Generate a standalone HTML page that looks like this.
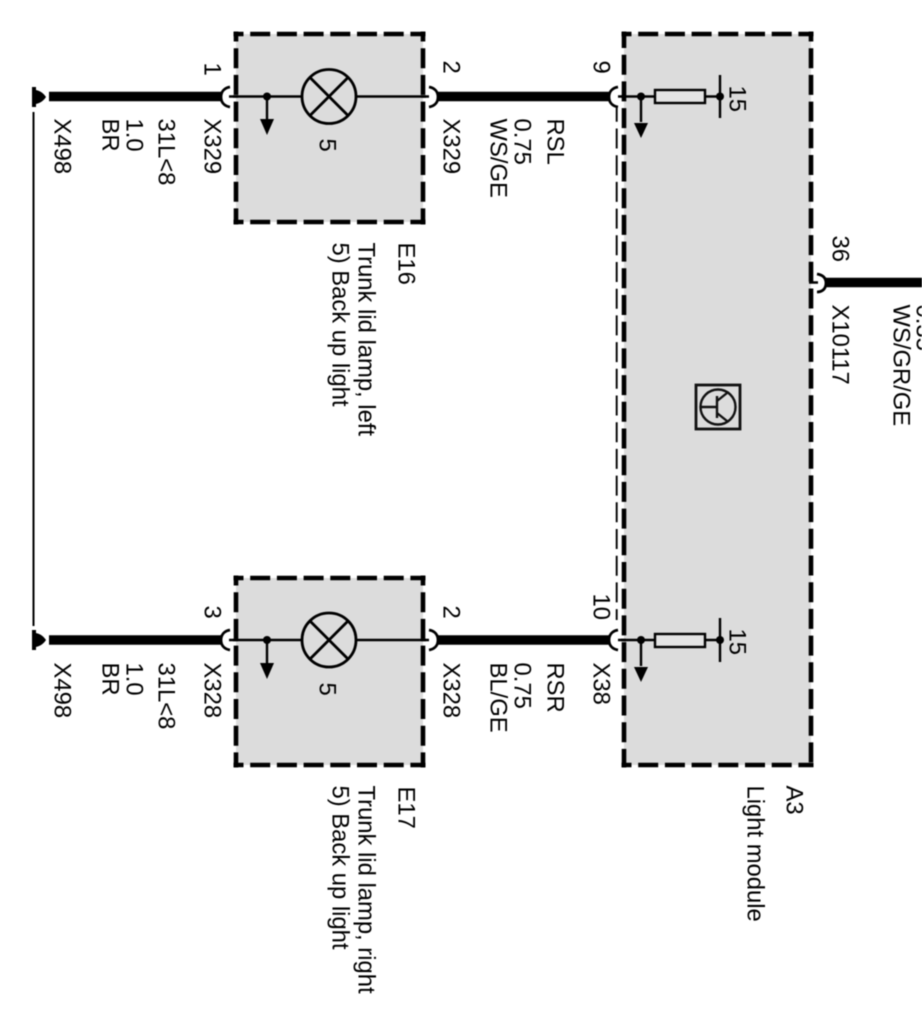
<!DOCTYPE html>
<html lang="en">
<head>
<meta charset="utf-8">
<title>Trunk lid lamp wiring diagram</title>
<style>
html,body{margin:0;padding:0;background:#fff;}
svg{display:block;filter:blur(0.45px);}
text{font-family:"Liberation Sans",sans-serif;font-size:23.800px;fill:#000;}
</style>
</head>
<body>
<svg xmlns="http://www.w3.org/2000/svg" width="922" height="1027" viewBox="0 0 922 1027">
<rect width="922" height="1027" fill="#fff"/>
<!-- Boxes -->
<g fill="#dcdcdc">
<rect x="236" y="34" width="187" height="188"/>
<rect x="236" y="578" width="187" height="187"/>
<rect x="624" y="34" width="187" height="731"/>
</g>
<g fill="none" stroke="#000" stroke-width="4.600" stroke-dasharray="20 6.700" stroke-dashoffset="10">
<path d="M233.500 34H425.500M233.500 222H425.500M236 31.500V224.500M423 31.500V224.500"/>
<path d="M233.500 578H425.500M233.500 765H425.500M236 575.500V767.500M423 575.500V767.500"/>
<path d="M621.500 34H813.500M621.500 765H813.500M811 31.500V767.500"/>
</g>
<path d="M624 31.500V767.500" fill="none" stroke="#000" stroke-width="4.600" stroke-dasharray="20 6.700" stroke-dashoffset="3.500"/>
<!-- Thin dashed link -->
<path d="M616.700 108V620" stroke="#000" stroke-width="1.900" stroke-dasharray="20 6.700" stroke-dashoffset="6.200" fill="none"/>
<!-- Thin ground link -->
<path d="M33.500 112V626" stroke="#000" stroke-width="2" fill="none"/>
<!-- Ground symbols -->
<g fill="#000">
<path d="M32 87h4v3c5 1 8 4 10 7-2 3-5 6-10 7v3h-4z"/>
<path d="M32 630h4v3c5 1 8 4 10 7-2 3-5 6-10 7v3h-4z"/>
</g>
<!-- Thick wires -->
<g stroke="#000" stroke-width="9.500" fill="none">
<path d="M49 96.500H222M438 96.500H611"/>
<path d="M49 640H222M438 640H611"/>
<path d="M825 282.500H922"/>
</g>
<!-- Thin internal wires -->
<g stroke="#000" stroke-width="2.400" fill="none">
<path d="M228 96.500H302M356 96.500H430"/>
<path d="M228 640H302M356 640H430"/>
<path d="M620 96.500H655M706 96.500H720"/>
<path d="M618 640H655M706 640H720"/>
<path d="M720 75V118M720 618V662"/>
<path d="M267 96.500V122M267 640V666M641 96.500V122M641 640V666"/>
</g>
<!-- Connector arcs -->
<g fill="#fff" stroke="none">
<path d="M232 85c-8 2-12 7-12 12s4 10 12 12h1V85z"/>
<path d="M232 629c-8 2-12 6-12 11s4 10 12 12h1V629z"/>
<path d="M426 85c8 2 13 7 13 12s-5 10-13 12h0V85z"/>
<path d="M426 629c8 2 13 6 13 11s-5 10-13 12h0V629z"/>
<path d="M620 85c-8 2-12 7-12 12s4 10 12 12h1V85z"/>
<path d="M620 629c-8 2-12 6-12 11s4 10 12 12h1V629z"/>
<path d="M815 271c8 2 12 7 12 12s-4 10-12 12h-1V271z"/>
</g>
<g fill="none" stroke="#000" stroke-width="2.800">
<path d="M230 87c-6 1-9 5-9 10s3 9 9 10"/>
<path d="M230 630c-6 1-9 5-9 10s3 9 9 10"/>
<path d="M429 87c6 1 9 5 9 10s-3 9-9 10"/>
<path d="M429 630c6 1 9 5 9 10s-3 9-9 10"/>
<path d="M618 87c-6 1-9 5-9 10s3 9 9 10"/>
<path d="M618 630c-6 1-9 5-9 10s3 9 9 10"/>
<path d="M817 274c6 1 9 4 9 9s-3 9-9 9"/>
</g>
<path d="M229 96.500H238M229 640H238M421 96.500H429M421 640H429M618 96.500H626M618 640H626M809 282.500H818" stroke="#000" stroke-width="2.600"/>
<!-- Lamps -->
<g fill="#dcdcdc" stroke="#000" stroke-width="2.800">
<circle cx="329" cy="96.500" r="27"/>
<circle cx="329" cy="640" r="27"/>
</g>
<path d="M310 77.500L348 115.500M348 77.500L310 115.500M310 621L348 659M348 621L310 659" stroke="#000" stroke-width="2.800" fill="none"/>
<!-- Junction dots and arrows -->
<g fill="#000">
<circle cx="267" cy="96.500" r="4"/><circle cx="267" cy="640" r="4"/>
<circle cx="641" cy="96.500" r="4"/><circle cx="641" cy="640" r="4"/>
<circle cx="720" cy="96.500" r="4"/><circle cx="720" cy="640" r="4"/>
<path d="M260 119H274L267 135z"/>
<path d="M260 663H274L267 679z"/>
<path d="M634 123H648L641 138z"/>
<path d="M634 667H648L641 682z"/>
</g>
<!-- Resistors -->
<g fill="#e4e4e4" stroke="#000" stroke-width="2.400">
<rect x="655" y="90" width="50" height="13"/>
<rect x="655" y="634" width="50" height="13"/>
</g>
<!-- Transistor icon -->
<rect x="696" y="385" width="44" height="44" fill="#dcdcdc" stroke="#111" stroke-width="2.800"/>
<circle cx="718" cy="407" r="17.500" fill="none" stroke="#111" stroke-width="2.400"/>
<path d="M700 407H717M717 396V418M717 401L727 393M717 413L727 421" fill="none" stroke="#111" stroke-width="2.400"/>
<!-- Text (rotated) -->
<g transform="translate(1.500,-0.500)">
<text transform="translate(203,63) rotate(90)">1</text>
<text transform="translate(442,61) rotate(90)">2</text>
<text transform="translate(592,61) rotate(90)">9</text>
<text transform="translate(203,606) rotate(90)">3</text>
<text transform="translate(442,606) rotate(90)">2</text>
<text transform="translate(592,594) rotate(90)">10</text>
<text transform="translate(831,236) rotate(90)">36</text>
<text transform="translate(728,86) rotate(90)">15</text>
<text transform="translate(728,629) rotate(90)">15</text>
<text transform="translate(318,139) rotate(90)">5</text>
<text transform="translate(318,683) rotate(90)">5</text>

<text transform="translate(203,119) rotate(90)">X329</text>
<text transform="translate(157,119) rotate(90)">31L&lt;8</text>
<text transform="translate(125,119) rotate(90)">1.0</text>
<text transform="translate(101,119) rotate(90)">BR</text>
<text transform="translate(53,119) rotate(90)">X498</text>
<text transform="translate(442,119) rotate(90)">X329</text>
<text transform="translate(546,119) rotate(90)">RSL</text>
<text transform="translate(513,119) rotate(90)">0.75</text>
<text transform="translate(489,119) rotate(90)">WS/GE</text>

<text transform="translate(203,663) rotate(90)">X328</text>
<text transform="translate(157,663) rotate(90)">31L&lt;8</text>
<text transform="translate(125,663) rotate(90)">1.0</text>
<text transform="translate(101,663) rotate(90)">BR</text>
<text transform="translate(53,663) rotate(90)">X498</text>
<text transform="translate(442,663) rotate(90)">X328</text>
<text transform="translate(592,663) rotate(90)">X38</text>
<text transform="translate(546,663) rotate(90)">RSR</text>
<text transform="translate(513,663) rotate(90)">0.75</text>
<text transform="translate(489,663) rotate(90)">BL/GE</text>

<text transform="translate(831,305) rotate(90)">X10117</text>
<text transform="translate(892,305) rotate(90)">WS/GR/GE</text>
<text transform="translate(915,305) rotate(90)">0.35</text>

<text transform="translate(397,243) rotate(90)">E16</text>
<text transform="translate(357,243) rotate(90)">Trunk lid lamp, left</text>
<text transform="translate(331,243) rotate(90)">5) Back up light</text>

<text transform="translate(397,787) rotate(90)">E17</text>
<text transform="translate(357,786) rotate(90)">Trunk lid lamp, right</text>
<text transform="translate(331,786) rotate(90)">5) Back up light</text>

<text transform="translate(785,786) rotate(90)">A3</text>
<text transform="translate(746,786) rotate(90)">Light module</text>
</g>
</svg>
</body>
</html>
